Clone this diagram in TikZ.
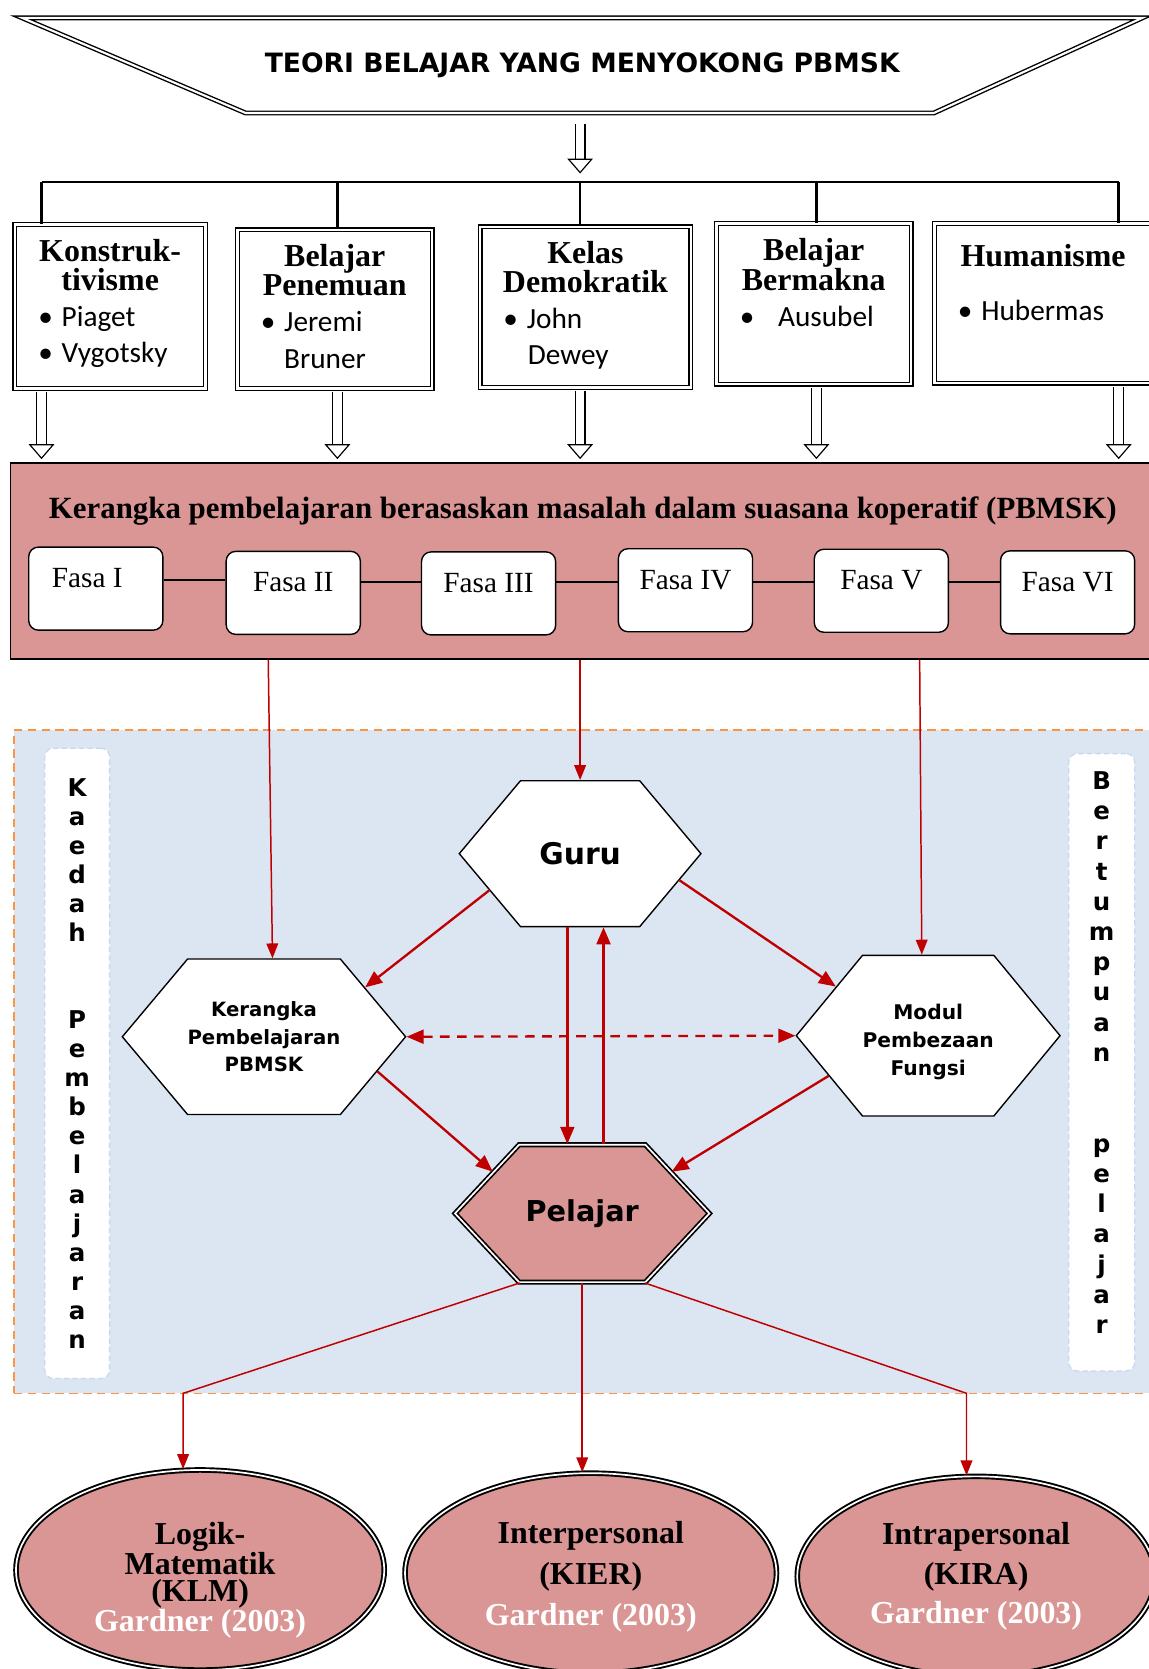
\documentclass[tikz,border=0pt]{standalone}
\usepackage{fontspec}
\setmainfont{Liberation Serif}
\newfontfamily\calfont{Carlito}
\newfontfamily\tahfont{DejaVu Sans}
\usepackage{tikz}
\usetikzlibrary{arrows.meta,positioning,shapes.geometric,shapes.symbols}

\definecolor{pbmskpink}{RGB}{217,150,148}
\definecolor{panelblue}{RGB}{220,230,242}
\definecolor{arrowred}{RGB}{192,0,0}
\definecolor{paneledge}{RGB}{247,150,70}
\definecolor{stripedge}{RGB}{198,217,241}

\newcommand{\teorihead}{\fontsize{30}{27}\selectfont\bfseries}
\newcommand{\teorilist}{\normalfont\calfont\fontsize{27.5}{34}\selectfont}
\newcommand{\tokoh}[1]{\hspace*{22pt}\makebox[22pt][l]{\textbullet}#1}

\tikzstyle{banner}=[rectangle,minimum width=1052pt,minimum height=89pt,inner sep=0pt,
  font=\tahfont\bfseries\fontsize{25}{28}\selectfont]
\tikzstyle{bannerline}=[draw,double,double distance=2pt,line width=1.3pt,line join=miter]
\tikzstyle{teori}=[draw,double,double distance=2.2pt,line width=1.3pt,fill=white,inner sep=0pt]
\tikzstyle{bus}=[draw,line width=2.4pt]
\tikzstyle{hollow}=[draw,double,double distance=8pt,line width=1.1pt,
  -{Triangle[open,length=14pt,width=24pt]}]
\tikzstyle{frame}=[draw,line width=1.3pt,fill=pbmskpink,minimum width=1075pt,inner xsep=0pt,
  inner ysep=32pt,text height=20pt,text depth=100pt,font=\fontsize{29}{30}\selectfont\bfseries]
\tikzstyle{fasa}=[draw,line width=1.3pt,fill=white,rounded corners=9pt,minimum width=126pt,
  inner sep=0pt,text height=38pt,text depth=40pt,font=\fontsize{27.5}{30}\selectfont]
\tikzstyle{fasalink}=[draw,line width=1.5pt]
\tikzstyle{panel}=[draw=paneledge,dash pattern=on 8pt off 5pt,line width=1.4pt,fill=panelblue,
  minimum width=1077pt,minimum height=623pt]
\tikzstyle{strip}=[draw=stripedge,dash pattern=on 5pt off 3pt,line width=1.2pt,fill=white,
  rounded corners=8pt,align=center,inner sep=0pt]
\tikzstyle{hexa}=[signal,signal to=east and west,signal pointer angle=100,draw,line width=1.3pt,
  fill=white,inner sep=0pt,align=center,font=\tahfont\bfseries\fontsize{19}{26}\selectfont]
\tikzstyle{pelajar}=[hexa,fill=pbmskpink,double,double distance=1.6pt,line width=1.6pt,
  signal pointer angle=94]
\tikzstyle{intel}=[ellipse,draw,double,double distance=1.6pt,line width=1.8pt,fill=pbmskpink,
  inner sep=0pt,align=center,minimum height=188pt]
\tikzstyle{redarr}=[draw=arrowred,line width=2.2pt,-{Triangle[length=16pt,width=13pt]}]
\tikzstyle{thinred}=[draw=arrowred,line width=1.4pt,-{Triangle[length=14pt,width=11pt]}]

\begin{document}
\begin{tikzpicture}[x=1pt,y=-1pt]
\useasboundingbox (0,0) rectangle (1079,1568);

% % % Teori
	\node[banner] (ti) at (547,61.5) {TEORI BELAJAR YANG MENYOKONG PBMSK};
	\path[bannerline] (ti.north west) -- (ti.north east) -- ([xshift=-196pt]ti.south east)
		-- ([xshift=210pt]ti.south west) -- cycle;

	\coordinate (d1) at (39,171);
	\coordinate (d2) at (317,171);
	\coordinate (d3) at (545,171);
	\coordinate (d4) at (767,171);
	\coordinate (d5) at (1051,171);

	\node[teori] (b1) at (103.5,288) {\parbox[c][154pt][t]{179pt}{\vspace*{14pt}\centering
		\teorihead Konstruk-\\tivisme\par\raggedright\teorilist\tokoh{Piaget}\\\tokoh{Vygotsky}}};
	\node[teori] (b2) at (314.5,290.5) {\parbox[c][149pt][t]{183pt}{\vspace*{14pt}\centering
		\teorihead Belajar\\Penemuan\par\raggedright\teorilist\tokoh{Jeremi}\\\hspace*{44pt}Bruner}};
	\node[teori] (b3) at (550,288.5) {\parbox[c][151pt][t]{198pt}{\vspace*{14pt}\centering
		\teorihead Kelas\\Demokratik\par\raggedright\teorilist\tokoh{John}\\\hspace*{45pt}Dewey}};
	\node[teori] (b4) at (764.5,285.5) {\parbox[c][151pt][t]{183pt}{\vspace*{14pt}\centering
		\teorihead Belajar\\Bermakna\par\raggedright\teorilist
		\hspace*{22pt}\makebox[36pt][l]{\textbullet}Ausubel}};
	\node[teori] (b5) at (980,285) {\parbox[c][150pt][t]{204pt}{\vspace*{20pt}\centering
		\teorihead Humanisme\par\vspace{16pt}\raggedright\teorilist\tokoh{Hubermas}}};

	\draw[hollow,shorten <=10pt,shorten >=8pt] (d3 |- ti.south) -- (d3);
	\draw[bus] (d1) -- (d5);
	\draw[bus] (d1) -- (d1 |- b1.north);
	\draw[bus] (d2) -- (d2 |- b2.north);
	\draw[bus] (d3) -- (d3 |- b3.north);
	\draw[bus] (d4) -- (d4 |- b4.north);
	\draw[bus] (d5) -- (d5 |- b5.north);

% % % PBMSK
	\node[frame] (fr) at (547.5,527)
		{Kerangka pembelajaran berasaskan masalah dalam suasana koperatif (PBMSK)};

	\draw[hollow,shorten <=3pt,shorten >=3pt] (d1 |- b1.south) -- (d1 |- fr.north);
	\draw[hollow,shorten <=3pt,shorten >=3pt] (d2 |- b2.south) -- (d2 |- fr.north);
	\draw[hollow,shorten <=3pt,shorten >=3pt] (d3 |- b3.south) -- (d3 |- fr.north);
	\draw[hollow,shorten <=3pt,shorten >=3pt] (d4 |- b4.south) -- (d4 |- fr.north);
	\draw[hollow,shorten <=3pt,shorten >=3pt] (d5 |- b5.south) -- (d5 |- fr.north);

	\node[fasa] (f1) at (90,553) {\hspace*{-16pt}Fasa I};
	\node[fasa] (f2) at (275.5,557) {Fasa II};
	\node[fasa] (f3) at (459,557.5) {Fasa III};
	\node[fasa] (f4) at (644,554.5) {Fasa IV};
	\node[fasa] (f5) at (828,555) {Fasa V};
	\node[fasa] (f6) at (1003,556.5) {Fasa VI};

	\path[fasalink] ([yshift=8pt]f1.east) -- ([yshift=8pt]f1.east -| f2.west);
	\path[fasalink] ([yshift=10pt]f2.east) -- ([yshift=10pt]f2.east -| f3.west);
	\path[fasalink] ([yshift=11pt]f3.east) -- ([yshift=11pt]f3.east -| f4.west);
	\path[fasalink] ([yshift=8pt]f4.east) -- ([yshift=8pt]f4.east -| f5.west);
	\path[fasalink] ([yshift=8pt]f5.east) -- ([yshift=8pt]f5.east -| f6.west);

% % % Pelaksanaan
	\node[panel] (pn) at (551.5,997.5) {};

	\node[strip,minimum width=61pt,minimum height=592pt,
		font=\tahfont\bfseries\fontsize{23}{27.3}\selectfont] (ks) at (72.5,999)
		{K\\a\\e\\d\\a\\h\\\mbox{}\\\mbox{}\\P\\e\\m\\b\\e\\l\\a\\j\\a\\r\\a\\n};
	\node[strip,minimum width=62pt,minimum height=580pt,
		font=\tahfont\bfseries\fontsize{23}{28.4}\selectfont] (bs) at (1035,998)
		{B\\e\\r\\t\\u\\m\\p\\u\\a\\n\\\mbox{}\\\mbox{}\\p\\e\\l\\a\\j\\a\\r\\[-10pt]\mbox{}};

	\node[hexa,minimum width=227pt,minimum height=137pt,
		font=\tahfont\bfseries\fontsize{28}{30}\selectfont] (gu) at (545,802) {Guru};
	\node[hexa,minimum width=264pt,minimum height=146pt,
		font=\tahfont\bfseries\fontsize{18.5}{26}\selectfont] (kr) at (248,974)
		{Kerangka\\Pembelajaran\\PBMSK};
	\node[hexa,minimum width=243pt,minimum height=151pt,signal pointer angle=101] (mo) at (872,973)
		{\rule{0pt}{26pt}Modul\\Pembezaan\\Fungsi};
	\node[pelajar,minimum width=239pt,minimum height=129pt,
		font=\tahfont\bfseries\fontsize{27}{30}\selectfont] (pe) at (547,1140) {Pelajar};

	\path[thinred] ([xshift=4pt]kr.north |- fr.south) -- ([xshift=8pt]kr.north);
	\path[thinred] (gu.north |- fr.south) -- (gu.north);
	\path[thinred] ([xshift=-8pt]mo.north |- fr.south) -- ([xshift=-6pt]mo.north);

	\path[redarr] (gu.202) -- (kr.26);
	\path[redarr] (gu.-15) -- (mo.152);
	\path[redarr] ([xshift=-12pt]gu.south) -- ([xshift=-12pt]gu.south |- pe.north);
	\path[redarr] ([xshift=20pt]pe.north) -- ([xshift=20pt]pe.north |- gu.south);
	\path[redarr] (kr.-17) -- (pe.155);
	\path[redarr] (mo.202) -- (pe.25);
	\path[redarr,dash pattern=on 9pt off 7pt,{Triangle[length=16pt,width=13pt]}-{Triangle[length=16pt,width=13pt]}]
		(kr.east) -- (mo.west);

% % % Kecerdasan
	\node[intel,minimum width=346pt,font=\bfseries\fontsize{30}{25.5}\selectfont] (e1) at (188,1475)
		{\rule{0pt}{40pt}Logik-\\Matematik\\(KLM)\\\textcolor{white}{Gardner (2003)}};
	\node[intel,minimum width=349pt,font=\bfseries\fontsize{30}{38.5}\selectfont] (e2) at (555,1478)
		{\rule{0pt}{28pt}Interpersonal\\(KIER)\\\textcolor{white}{Gardner (2003)}};
	\node[intel,minimum width=336pt,font=\bfseries\fontsize{30}{37}\selectfont] (e3) at (917,1481)
		{Intrapersonal\\(KIRA)\\\textcolor{white}{Gardner (2003)}};

	\coordinate (k1) at (172,1309);
	\coordinate (k3) at (908,1309);

	\path[thinred] (pe.228) -- (k1) -- (k1 |- e1.north);
	\path[thinred] (pe.south) -- (pe.south |- e2.north);
	\path[thinred] (pe.312) -- (k3) -- (k3 |- e3.north);

\end{tikzpicture}
\end{document}
